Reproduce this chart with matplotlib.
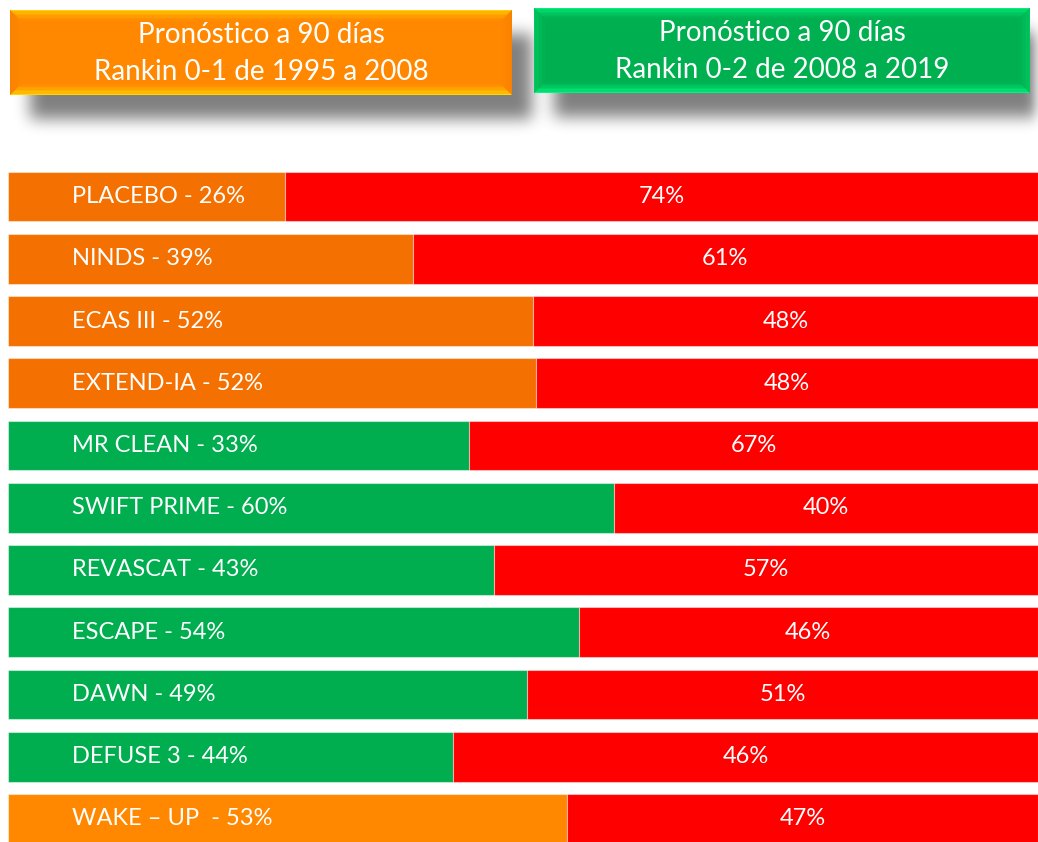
import numpy as np
import matplotlib
matplotlib.use("Agg")
import matplotlib.pyplot as plt
from matplotlib.colors import to_rgb
from matplotlib.patches import Polygon, Rectangle

W, H, DPI = 1038, 842, 100
FONT = ["Lato", "DejaVu Sans"]

# ---- data -------------------------------------------------------------------
trials = ["PLACEBO", "NINDS", "ECAS III", "EXTEND-IA", "MR CLEAN",
          "SWIFT PRIME", "REVASCAT", "ESCAPE", "DAWN", "DEFUSE 3", "WAKE \u2013 UP "]
good_pct = [26, 39, 52, 52, 33, 60, 43, 54, 49, 44, 53]
bad_pct = [74, 61, 48, 48, 67, 40, 57, 46, 51, 46, 47]
# drawn length of the coloured segment (% of bar width) as measured on the slide
good_bar = [26.9, 39.3, 51.0, 51.3, 44.8, 58.8, 47.2, 55.4, 50.4, 43.2, 54.3]
group = ["old", "old", "old", "old", "new", "new", "new", "new", "new", "new", "wake"]

header_old = "Pron\u00f3stico a 90 d\u00edas\nRankin 0-1 de 1995 a 2008"
header_new = "Pron\u00f3stico a 90 d\u00edas\nRankin 0-2 de 2008 a 2019"

COLORS = {"old": "#F47000", "new": "#00AE50", "wake": "#FF8800"}
RED = "#FF0000"


def mix(c1, c2, t):
    a, b = np.array(to_rgb(c1)), np.array(to_rgb(c2))
    return tuple(a + (b - a) * t)


def box_blur(a, r, passes=3):
    k = np.ones(2 * r + 1) / (2 * r + 1)
    for _ in range(passes):
        a = np.apply_along_axis(lambda m: np.convolve(m, k, mode="same"), 0, a)
        a = np.apply_along_axis(lambda m: np.convolve(m, k, mode="same"), 1, a)
    return a


def bevel_box(ax, x0, y0, x1, y1, base, light, side, b=11, steps=8):
    ax.add_patch(Rectangle((x0, y0), x1 - x0, y1 - y0, color=base, lw=0, zorder=3))
    for i in range(steps):
        d0, d1 = b * i / steps, b * (i + 1) / steps
        t = (i + 0.5) / steps
        top = [(x0 + d0, y0 + d0), (x1 - d0, y0 + d0), (x1 - d1, y0 + d1), (x0 + d1, y0 + d1)]
        bot = [(x0 + d0, y1 - d0), (x1 - d0, y1 - d0), (x1 - d1, y1 - d1), (x0 + d1, y1 - d1)]
        lft = [(x0 + d0, y0 + d0), (x0 + d1, y0 + d1), (x0 + d1, y1 - d1), (x0 + d0, y1 - d0)]
        rgt = [(x1 - d0, y0 + d0), (x1 - d1, y0 + d1), (x1 - d1, y1 - d1), (x1 - d0, y1 - d0)]
        for pts, c in ((top, mix(light, base, t ** 0.6)), (bot, mix(light, base, t ** 0.8)),
                       (lft, mix(side, base, t)), (rgt, mix(side, base, t))):
            ax.add_patch(Polygon(pts, closed=True, color=c, lw=0, zorder=4))


fig = plt.figure(figsize=(W / DPI, H / DPI), dpi=DPI)
fig.patch.set_facecolor("white")

# pixel-space canvas for the header boxes
canvas = fig.add_axes([0, 0, 1, 1])
canvas.set_xlim(0, W)
canvas.set_ylim(H, 0)
canvas.axis("off")

boxes = [(10, 10, 512, 95, "#FF8800", "#FFE000", "#F98000", header_old),
         (534, 8, 1030, 93, "#00B050", "#00FF88", "#00C860", header_new)]

# soft drop shadow under both boxes
HS = 170
mask = np.zeros((HS, W))
for x0, y0, x1, y1, *_ in boxes:
    mask[y0 + 24:y1 + 24, x0 + 20:min(x1 + 20, W)] = 1.0
shade = box_blur(mask, 7)
rgba = np.zeros((HS, W, 4))
rgba[..., 3] = 0.5 * shade
canvas.imshow(rgba, extent=(0, W, HS, 0), zorder=1, interpolation="bilinear")

for x0, y0, x1, y1, base, light, side, text in boxes:
    bevel_box(canvas, x0, y0, x1, y1, base, light, side)
    canvas.text((x0 + x1) / 2, (y0 + y1) / 2 + 1, text, ha="center", va="center",
                color="white", fontsize=20, linespacing=1.5, family=FONT, zorder=6)

# stacked bars
n = len(trials)
top_px, bot_px = 165.4, 850.1
ax = fig.add_axes([8 / W, 1 - bot_px / H, 1030 / W, (bot_px - top_px) / H])
ax.set_xlim(0, 100)
ax.set_ylim(n - 0.5, -0.5)
ax.axis("off")
ax.patch.set_alpha(0)

y = np.arange(n)
good = np.array(good_bar)
cols = [COLORS[g] for g in group]
ax.barh(y, good, height=0.8, color=cols, edgecolor=(1, 1, 1, 0.45), linewidth=0.8)
ax.barh(y, 100 - good, left=good, height=0.8, color=RED,
        edgecolor=(1, 1, 1, 0.45), linewidth=0.8)

for i in range(n):
    ax.text(6.2, y[i], f"{trials[i]} - {good_pct[i]}%", ha="left", va="center",
            color="white", fontsize=17, family=FONT)
    ax.text(good[i] + (100 - good[i]) / 2, y[i], f"{bad_pct[i]}%", ha="center",
            va="center", color="white", fontsize=17, family=FONT)

fig.savefig("out.png", dpi=DPI)
